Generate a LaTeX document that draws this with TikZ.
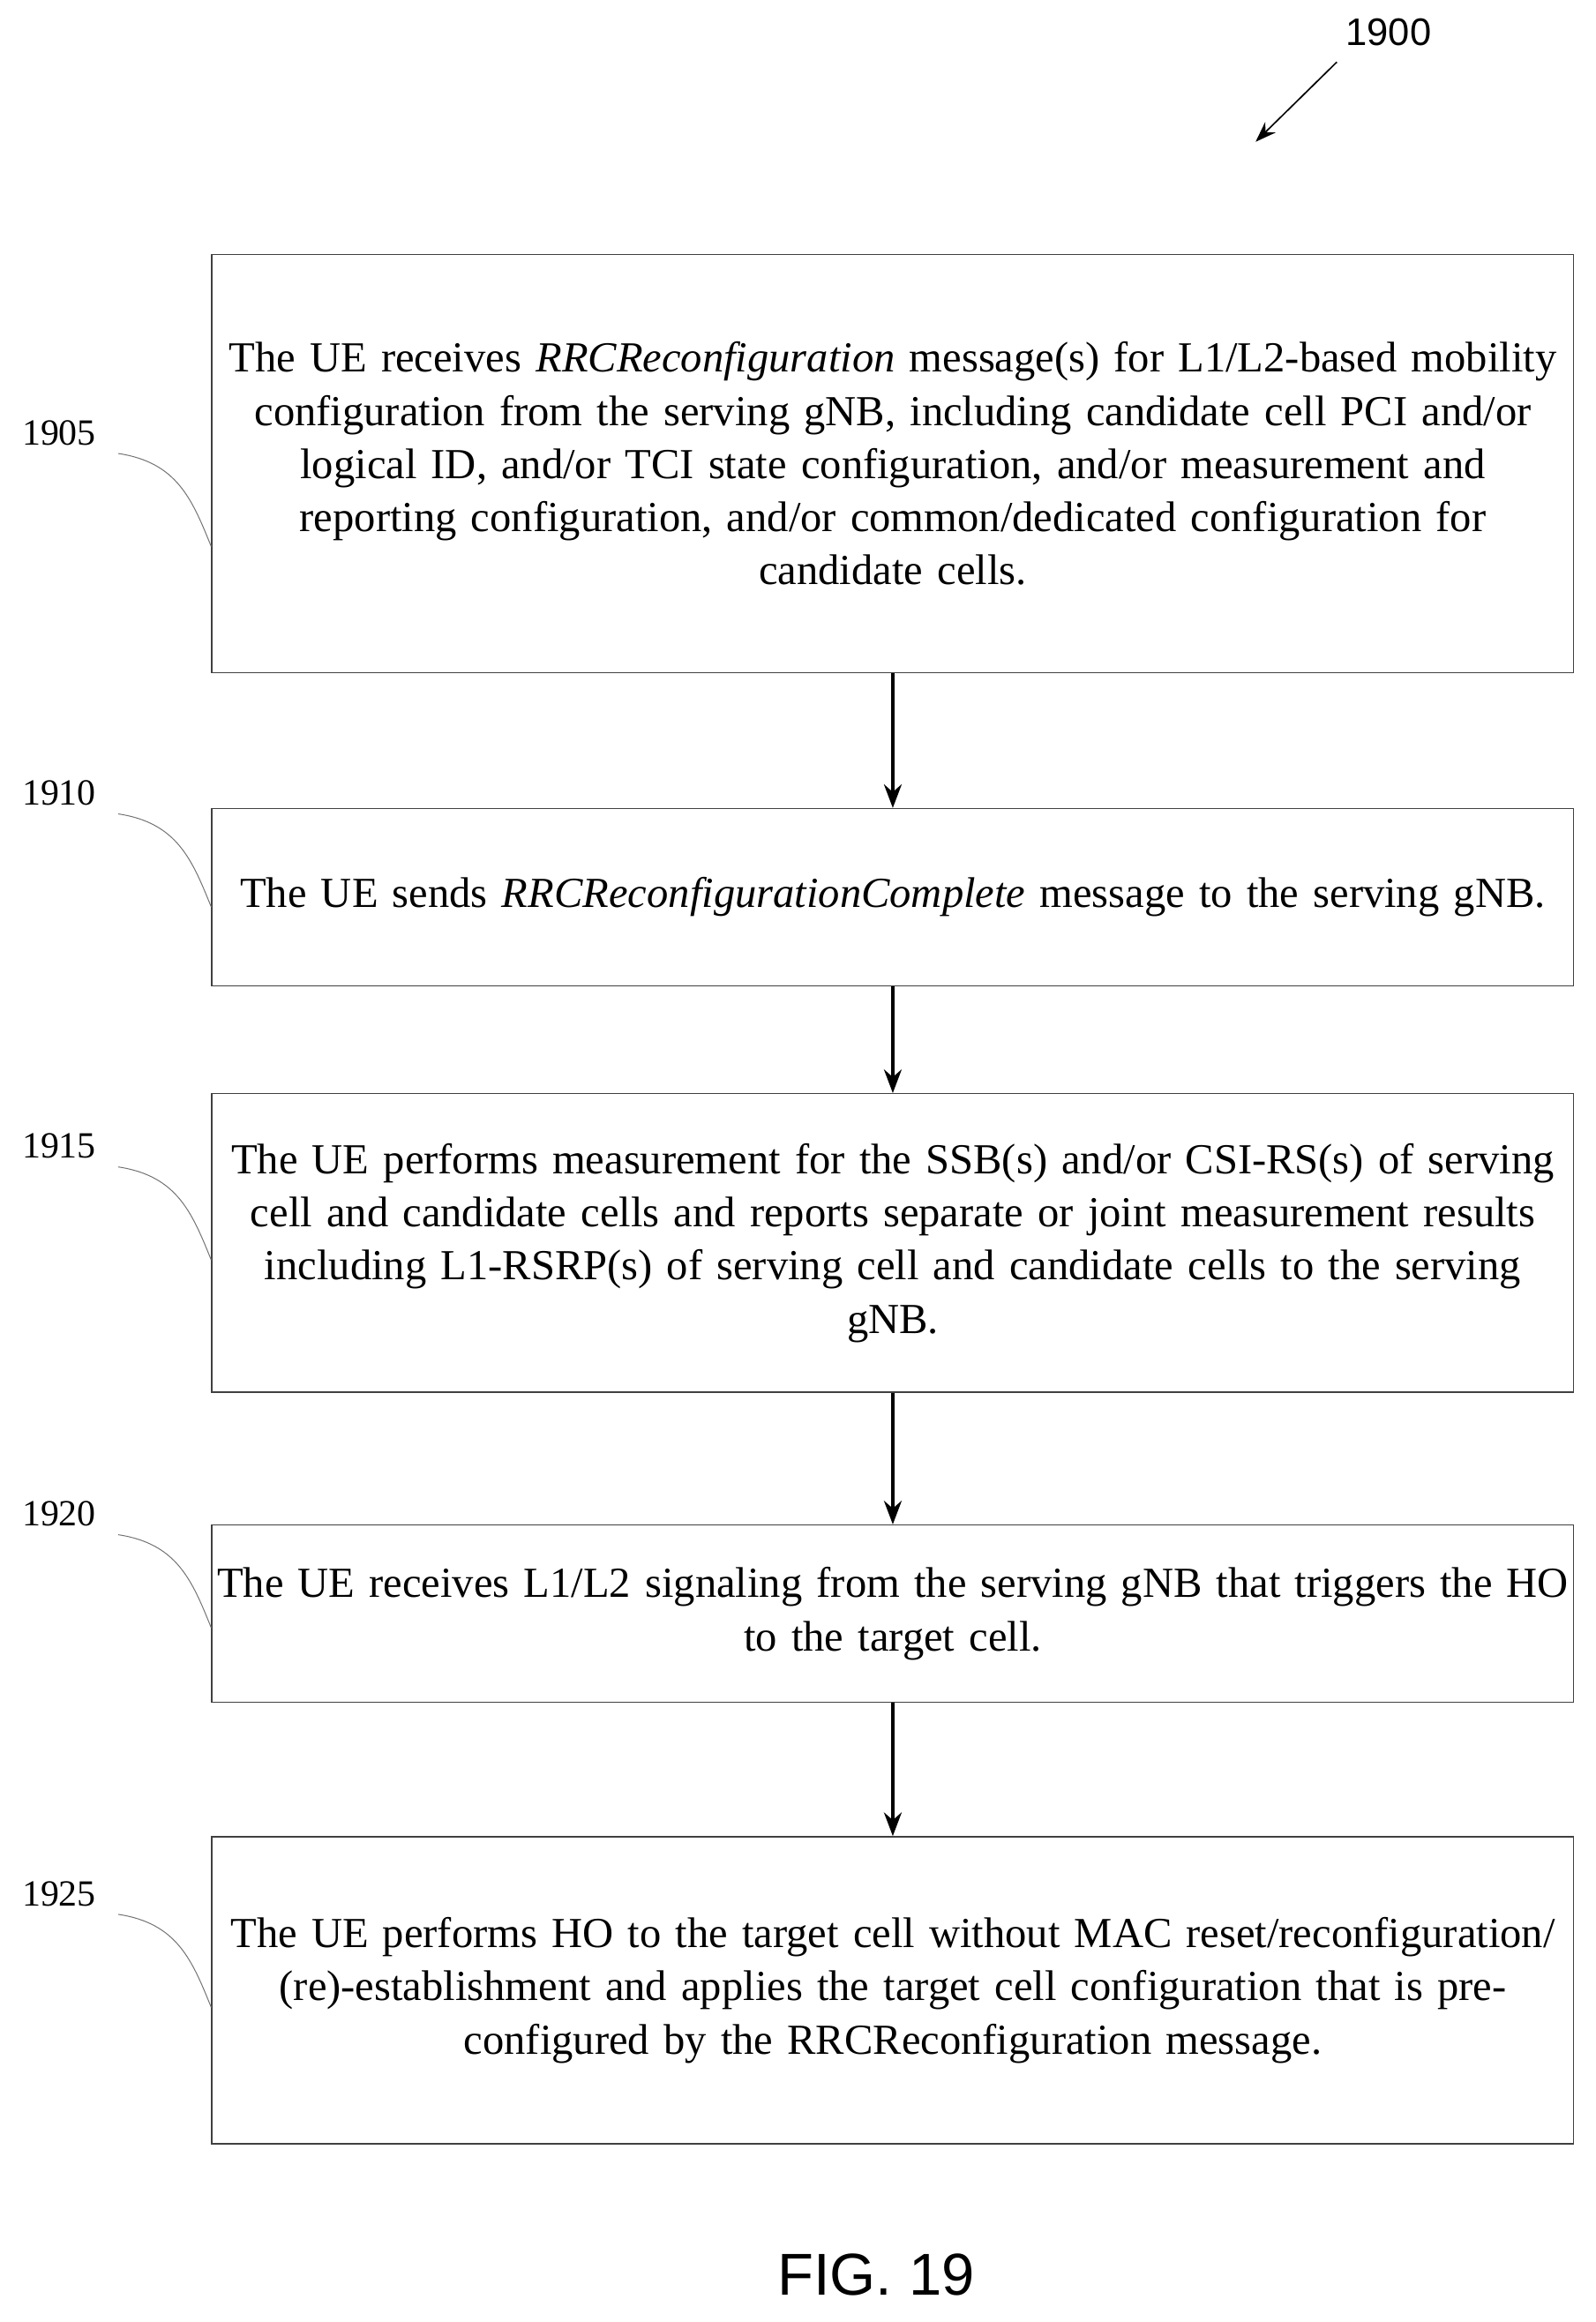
\documentclass[tikz,border=0pt]{standalone}
\usepackage{fontspec}
\setmainfont{Liberation Serif}
\newfontfamily\labelsans{Liberation Sans}
\usetikzlibrary{arrows.meta}
\begin{document}
\begin{tikzpicture}[x=1pt,y=-1pt,
  box/.style={draw=black!75,line width=0.8pt,minimum width=922pt,text width=918pt,align=center,anchor=north west,inner sep=1pt,font=\fontsize{29}{36}\selectfont},
  lab/.style={font=\fontsize{25}{28}\selectfont},
  flow/.style={-{Stealth[length=16pt,width=12pt]},line width=2pt},
  lead/.style={draw=black!55,line width=0.6pt}]
\useasboundingbox (0,0) rectangle (1080,1572);
\node[box,minimum height=283pt] (b1) at (143,172) {The UE receives \textit{RRCReconfiguration} message(s) for L1/L2-based mobility\\ configuration from the serving gNB, including candidate cell PCI and/or\\ logical ID, and/or TCI state configuration, and/or measurement and\\ reporting configuration, and/or common/dedicated configuration for\\ candidate cells.};
\node[box,minimum height=120pt] (b2) at (143,547) {The UE sends \textit{RRCReconfigurationComplete} message to the serving gNB.};
\node[box,minimum height=202pt] (b3) at (143,740) {The UE performs measurement for the SSB(s) and/or CSI-RS(s) of serving\\ cell and candidate cells and reports separate or joint measurement results\\ including L1-RSRP(s) of serving cell and candidate cells to the serving\\ gNB.};
\node[box,minimum height=120pt] (b4) at (143,1032) {The UE receives L1/L2 signaling from the serving gNB that triggers the HO\\ to the target cell.};
\node[box,minimum height=208pt] (b5) at (143,1243) {The UE performs HO to the target cell without MAC reset/reconfiguration/\\ (re)-establishment and applies the target cell configuration that is pre-\\ configured by the RRCReconfiguration message.};
\draw[flow] (b1.south) -- (b2.north);
\draw[flow] (b2.south) -- (b3.north);
\draw[flow] (b3.south) -- (b4.north);
\draw[flow] (b4.south) -- (b5.north);
\foreach \n/\y/\b in {1905/293/b1,1910/537/b2,1915/776/b3,1920/1025/b4,1925/1282/b5}{
  \node[lab] (l\n) at (40,\y) {\n};
  \coordinate (e\n) at (143,\y+77);
  \draw[lead] (80,\y+14) .. controls (120,\y+20) and (130,\y+45) .. (e\n);
}
\node[font=\labelsans\fontsize{26}{30}\selectfont] (t1900) at (940,22) {1900};
\coordinate (a1900) at (850,96);
\draw[-{Stealth[length=14pt,width=10pt]},line width=1pt] (905,42) -- (a1900);
\node[font=\labelsans\fontsize{40}{44}\selectfont] (fig) at (593,1540) {FIG. 19};
\end{tikzpicture}
\end{document}
